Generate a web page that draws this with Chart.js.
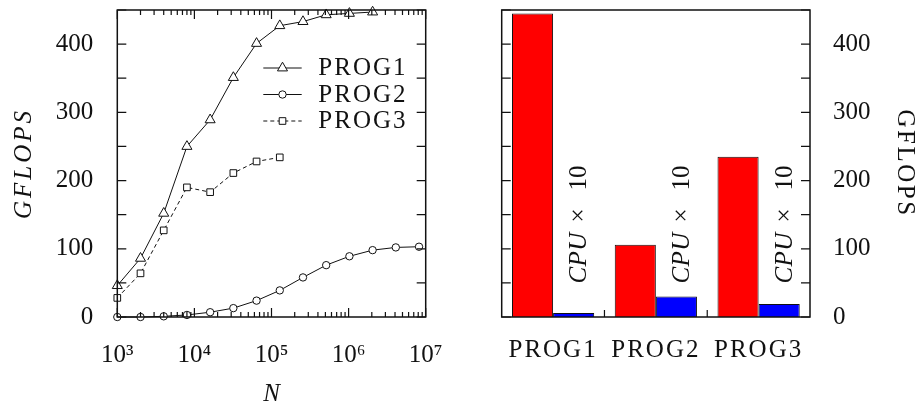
<!DOCTYPE html>
<html><head><meta charset="utf-8">
<script src="https://cdn.jsdelivr.net/npm/chart.js@4/dist/chart.umd.min.js"></script>
<style>
html,body{margin:0;padding:0;background:#fff;width:917px;height:407px;overflow:hidden}
canvas{position:absolute;top:0}
#c1{left:0}
#c2{left:460px}
</style></head><body>
<canvas id="c1" width="460" height="407"></canvas>
<canvas id="c2" width="457" height="407"></canvas>
<script>
// ---------------- data ----------------
const sizesN = [1000, 2000, 4000, 8000, 16000, 32000, 64000, 128000, 256000, 512000, 1024000, 2048000, 4096000, 8192000];
const prog1 = [46, 86, 152, 250, 289, 351, 401, 427, 433, 443, 445, 447];
const prog2 = [0, 0, 1, 3, 7, 13, 24, 39, 58, 76, 89, 98, 102, 103];
const prog3 = [28, 64, 127, 190, 183, 211, 228, 234];
const seriesNames = ['PROG1', 'PROG2', 'PROG3'];
const xTickLabels = ['10³', '10⁴', '10⁵', '10⁶', '10⁷'];
const xTitle = 'N';
const yTitle = 'GFLOPS';
const barCategories = ['PROG1', 'PROG2', 'PROG3'];
const gpuGflops = [445, 106, 235];
const cpuGflopsX10 = [6, 30, 19];
const cpuNote = ['CPU', '×', '10'];
const yMax = 450, yStep = 50, yLabelStep = 100;

// ---------------- styles ----------------
const FONT = '"Liberation Serif", "DejaVu Serif", serif';
const ink = '#111';

function pts(vals) { return vals.map((v, i) => ({ x: sizesN[i], y: v })); }
function yLabel(v) { return v % yLabelStep === 0 ? String(v) : ''; }

function spaceOut(scale, method, spacing) {
  if (!scale || scale['__sp_' + method]) return;
  const orig = scale[method];
  scale[method] = function () {
    const c = this.ctx; const prev = c.letterSpacing;
    c.letterSpacing = spacing;
    try { return orig.apply(this, arguments); }
    finally { c.letterSpacing = prev || '0px'; }
  };
  scale['__sp_' + method] = true;
}

function marker(ctx, style, r, x, y) {
  ctx.beginPath();
  if (style === 'triangle') {
    ctx.moveTo(x, y - r);
    ctx.lineTo(x + r * 0.866, y + r / 2);
    ctx.lineTo(x - r * 0.866, y + r / 2);
    ctx.closePath();
  } else if (style === 'circle') {
    ctx.arc(x, y, r, 0, Math.PI * 2);
  } else {
    const s = r * Math.SQRT1_2;
    ctx.rect(x - s, y - s, 2 * s, 2 * s);
  }
  ctx.fillStyle = '#fff'; ctx.fill();
  ctx.stroke();
}

// frame + inward tick marks for the line chart
const lineDecor = {
  id: 'lineDecor',
  beforeDraw(chart) {
    spaceOut(chart.scales.y, 'drawTitle', '3px');
  },
  afterDraw(chart) {
    const { ctx, chartArea: a } = chart;
    const xs = chart.scales.x, ys = chart.scales.y;
    ctx.save();
    ctx.strokeStyle = ink; ctx.lineWidth = 1.2;
    ctx.beginPath();
    ys.ticks.forEach(t => {
      const p = ys.getPixelForValue(t.value);
      ctx.moveTo(a.left, p); ctx.lineTo(a.left + 9, p);
      ctx.moveTo(a.right, p); ctx.lineTo(a.right - 9, p);
    });
    for (let d = 3; d <= 7; d++) {
      for (let k = 1; k <= 9; k++) {
        if (d === 7 && k > 1) break;
        const p = xs.getPixelForValue(k * Math.pow(10, d));
        const len = k === 1 ? 9 : 5;
        ctx.moveTo(p, a.bottom); ctx.lineTo(p, a.bottom - len);
        ctx.moveTo(p, a.top); ctx.lineTo(p, a.top + len);
      }
    }
    ctx.stroke();
    ctx.lineWidth = 1.5;
    ctx.strokeRect(a.left, a.top, a.right - a.left, a.bottom - a.top);

    // legend
    const lx1 = 263.3, lx2 = 301.7, lt = 318.3, rows = [68, 94.5, 121];
    ctx.font = '25px ' + FONT;
    ctx.textBaseline = 'alphabetic';
    ctx.textAlign = 'left';
    chart.data.datasets.forEach((ds, i) => {
      const y = rows[i];
      ctx.strokeStyle = ds.borderColor; ctx.lineWidth = ds.borderWidth;
      ctx.setLineDash(ds.borderDash || []);
      ctx.beginPath(); ctx.moveTo(lx1, y); ctx.lineTo(lx2, y); ctx.stroke();
      ctx.setLineDash([]);
      ctx.lineWidth = ds.pointBorderWidth;
      marker(ctx, ds.pointStyle, ds.pointRadius, (lx1 + lx2) / 2, y);
      ctx.fillStyle = ink;
      ctx.letterSpacing = '2px';
      ctx.fillText(ds.label, lt, y + 7);
      ctx.letterSpacing = '0px';
    });
    ctx.restore();
  }
};

const lineCfg = {
  type: 'line',
  data: {
    datasets: [
      { label: seriesNames[0], data: pts(prog1), borderColor: ink, borderWidth: 1, pointStyle: 'triangle', pointRadius: 5.8, pointBackgroundColor: '#fff', pointBorderColor: ink, pointBorderWidth: 1, tension: 0, fill: false, clip: false },
      { label: seriesNames[1], data: pts(prog2), borderColor: ink, borderWidth: 1, pointStyle: 'circle', pointRadius: 3.7, pointBackgroundColor: '#fff', pointBorderColor: ink, pointBorderWidth: 1, tension: 0, fill: false, clip: false },
      { label: seriesNames[2], data: pts(prog3), borderColor: ink, borderWidth: 1, borderDash: [4, 3], pointStyle: 'rect', pointRadius: 4.7, pointBackgroundColor: '#fff', pointBorderColor: ink, pointBorderWidth: 1, tension: 0, fill: false, clip: false }
    ]
  },
  options: {
    responsive: false, animation: false, devicePixelRatio: 1,
    layout: { padding: { left: 0, top: 10, right: 34.3, bottom: 0 } },
    plugins: { legend: { display: false }, tooltip: { enabled: false } },
    scales: {
      x: {
        type: 'logarithmic', min: 1000, max: 1e7,
        grid: { display: false, drawTicks: false }, border: { display: false },
        ticks: {
          autoSkip: false, maxRotation: 0, minRotation: 0, padding: 23, color: ink,
          font: { family: FONT, size: 25 },
          callback: (v) => {
            const l = Math.log10(v), r = Math.round(l);
            return Math.abs(l - r) < 1e-9 && r >= 3 && r <= 7 ? xTickLabels[r - 3] : '';
          }
        },
        title: { display: true, text: xTitle, color: ink, font: { family: FONT, size: 25, style: 'italic', lineHeight: 1 }, padding: { top: 0, bottom: 0 } },
        afterFit: (s) => { s.height = 90; s.paddingLeft = 0; s.paddingRight = 0; }
      },
      y: {
        min: 0, max: yMax,
        grid: { display: false, drawTicks: false }, border: { display: false },
        ticks: { stepSize: yStep, padding: 24, color: ink, font: { family: FONT, size: 25 }, callback: yLabel },
        title: { display: true, text: yTitle, color: ink, font: { family: FONT, size: 25, style: 'italic', lineHeight: 1 }, padding: { top: 12, bottom: 0 } },
        afterFit: (s) => { s.width = 117.3; s.paddingTop = 0; s.paddingBottom = 0; }
      }
    }
  },
  plugins: [lineDecor]
};

// frame, ticks and notes for the bar chart
const barDecor = {
  id: 'barDecor',
  beforeDraw(chart) {
    spaceOut(chart.scales.x, 'drawLabels', '2px');
    spaceOut(chart.scales.y, 'drawTitle', '2.5px');
  },
  afterDraw(chart) {
    const { ctx, chartArea: a } = chart;
    const xs = chart.scales.x, ys = chart.scales.y;
    ctx.save();
    ctx.strokeStyle = ink; ctx.lineWidth = 1.2;
    ctx.beginPath();
    ys.ticks.forEach(t => {
      const p = ys.getPixelForValue(t.value);
      ctx.moveTo(a.left, p); ctx.lineTo(a.left + 9, p);
      ctx.moveTo(a.right, p); ctx.lineTo(a.right - 9, p);
    });
    for (let i = 0; i < chart.data.labels.length - 1; i++) {
      const p = (xs.getPixelForValue(i) + xs.getPixelForValue(i + 1)) / 2;
      ctx.moveTo(p, a.bottom); ctx.lineTo(p, a.bottom - 7);
    }
    ctx.stroke();
    ctx.lineWidth = 1.5;
    ctx.strokeRect(a.left, a.top, a.right - a.left, a.bottom - a.top);

    // rotated notes above the CPU bars
    const meta = chart.getDatasetMeta(1);
    const y0 = ys.getPixelForValue(49);
    ctx.fillStyle = ink;
    ctx.textBaseline = 'alphabetic';
    meta.data.forEach(bar => {
      ctx.save();
      ctx.translate(bar.x + 12.5, y0);
      ctx.rotate(-Math.PI / 2);
      ctx.textAlign = 'left';
      ctx.font = 'italic 25px ' + FONT;
      ctx.letterSpacing = '0.5px';
      ctx.fillText(cpuNote[0], 0, 0);
      ctx.letterSpacing = '0px';
      ctx.font = '25px ' + FONT;
      ctx.textAlign = 'center';
      ctx.fillText(cpuNote[1], 68, 0);
      ctx.textAlign = 'left';
      ctx.fillText(cpuNote[2], 93, 0);
      ctx.restore();
    });
    ctx.restore();
  }
};

const barCfg = {
  type: 'bar',
  data: {
    labels: barCategories,
    datasets: [
      { label: 'GPU', data: gpuGflops, backgroundColor: '#ff0000', borderColor: ink, borderWidth: 1, categoryPercentage: 0.8, barPercentage: 1 },
      { label: 'CPU × 10', data: cpuGflopsX10, backgroundColor: '#0000ff', borderColor: ink, borderWidth: 1, categoryPercentage: 0.8, barPercentage: 1 }
    ]
  },
  options: {
    responsive: false, animation: false, devicePixelRatio: 1,
    layout: { padding: { left: 41.7, top: 10, right: 0, bottom: 0 } },
    plugins: { legend: { display: false }, tooltip: { enabled: false } },
    scales: {
      x: {
        grid: { display: false, drawTicks: false }, border: { display: false },
        ticks: { padding: 18, color: ink, font: { family: FONT, size: 25 }, maxRotation: 0, autoSkip: false },
        afterFit: (s) => { s.height = 90; s.paddingLeft = 0; s.paddingRight = 0; }
      },
      y: {
        position: 'right', min: 0, max: yMax,
        grid: { display: false, drawTicks: false }, border: { display: false },
        ticks: { stepSize: yStep, padding: 23, color: ink, font: { family: FONT, size: 25 }, callback: yLabel },
        title: { display: true, text: yTitle, color: ink, font: { family: FONT, size: 25, lineHeight: 1 }, padding: { top: 0, bottom: 0 } },
        afterFit: (s) => { s.width = 107; s.paddingTop = 0; s.paddingBottom = 0; }
      }
    }
  },
  plugins: [barDecor]
};

new Chart(document.getElementById('c1'), lineCfg);
new Chart(document.getElementById('c2'), barCfg);
</script>
</body></html>
